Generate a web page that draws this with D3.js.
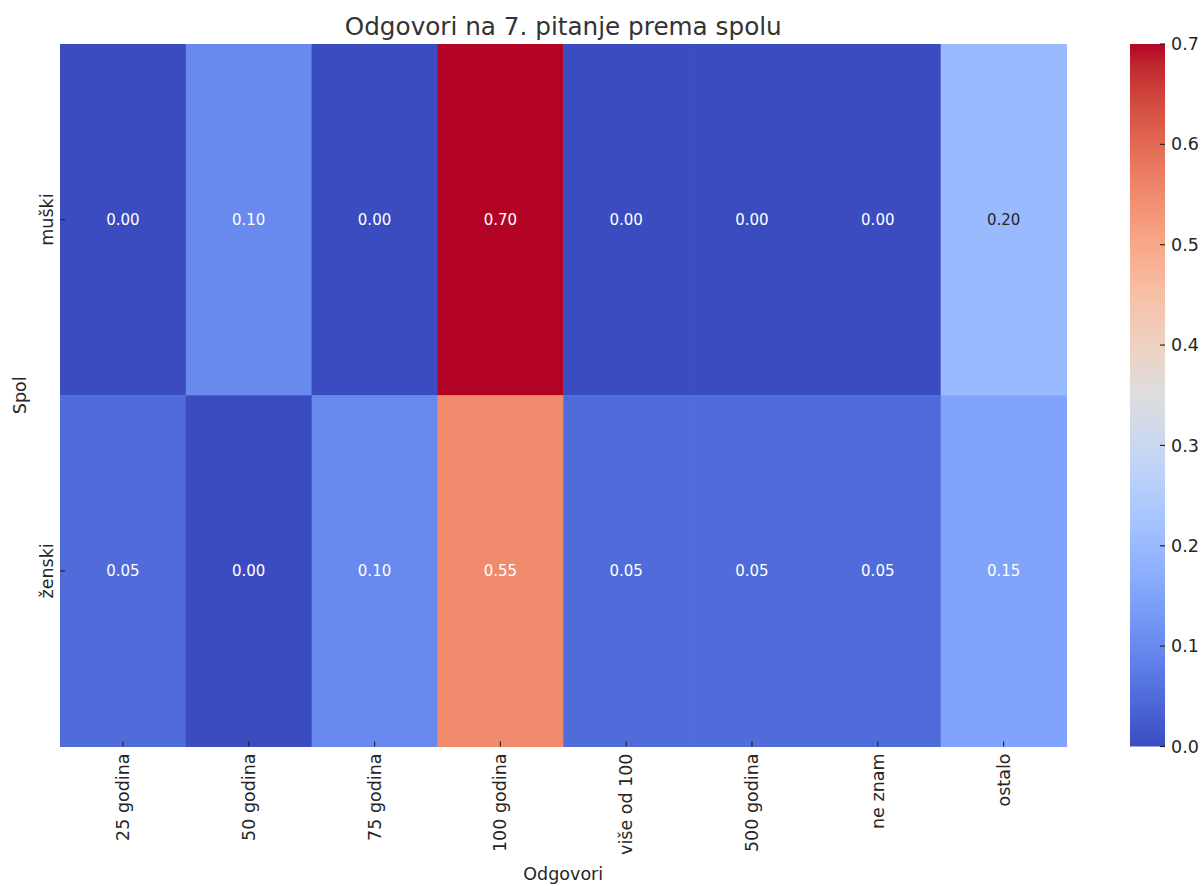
<!DOCTYPE html>
<html><head><meta charset="utf-8">
<script src="https://cdn.jsdelivr.net/npm/d3@7"></script>
<style>body{margin:0;background:#fff}svg{display:block}text{font-family:"DejaVu Sans",sans-serif;fill:#262626}</style>
</head><body>
<svg id="c" width="1204" height="886"></svg>
<script>
const categories = ["25 godina","50 godina","75 godina","100 godina","više od 100","500 godina","ne znam","ostalo"];
const rows = ["muški","ženski"];
const valuesMuski = [0.00,0.10,0.00,0.70,0.00,0.00,0.00,0.20];
const valuesZenski = [0.05,0.00,0.10,0.55,0.05,0.05,0.05,0.15];
const colorTicks = [0.0,0.1,0.2,0.3,0.4,0.5,0.6,0.7];
const title = "Odgovori na 7. pitanje prema spolu";
const xLabel = "Odgovori", yLabel = "Spol";

// matplotlib coolwarm anchor colours
const cw = [[0.2298057,0.298717966,0.753683153],[0.26623388,0.353094838,0.801466763],[0.30386891,0.406535296,0.84495867],[0.342804478,0.458757618,0.883725899],[0.38301334,0.50941904,0.917387822],[0.424369608,0.558148092,0.945619588],[0.46666708,0.604562568,0.968154911],[0.509635204,0.648280772,0.98478814],[0.552953156,0.688929332,0.995375608],[0.596262162,0.726149107,0.999836203],[0.639176211,0.759599947,0.998151185],[0.681291281,0.788964712,0.990363227],[0.722193294,0.813952739,0.976574709],[0.761464949,0.834302879,0.956945269],[0.798691636,0.849786142,0.931688648],[0.833466556,0.860207984,0.901068838],[0.865395197,0.86541021,0.865395561],[0.897787179,0.848937047,0.820880546],[0.924127593,0.827384882,0.774508472],[0.944468518,0.800927443,0.726736146],[0.958852946,0.769767752,0.678007945],[0.96732803,0.734132809,0.628751763],[0.969954137,0.694266682,0.579375448],[0.966811177,0.650421156,0.530263762],[0.958003065,0.602842431,0.481775914],[0.943660866,0.551750968,0.434243684],[0.923944917,0.49730856,0.387970225],[0.89904617,0.439559467,0.343229596],[0.869186849,0.378313092,0.300267182],[0.834620542,0.312874446,0.259301199],[0.795631745,0.24128379,0.220525627],[0.752534934,0.157246067,0.184115123],[0.705673158,0.01555616,0.150232812]];
const cwInterp = d3.piecewise(d3.interpolateRgb, cw.map(c => d3.rgb(c[0]*255,c[1]*255,c[2]*255)));
const vmin = 0, vmax = 0.7;
const color = d3.scaleSequential(cwInterp).domain([vmin, vmax]).clamp(true);

const data = [];
[valuesMuski, valuesZenski].forEach((arr, ri) => arr.forEach((v, ci) => data.push({row: rows[ri], col: categories[ci], v})));

const svg = d3.select("#c");
const L = 60, R = 1066.5, T = 44, B = 746.5;
const x = d3.scaleBand().domain(categories).range([L, R]);
const y = d3.scaleBand().domain(rows).range([T, B]);

svg.append("g").selectAll("rect").data(data).join("rect")
  .attr("x", d => x(d.col)).attr("y", d => y(d.row))
  .attr("width", x.bandwidth()+0.5).attr("height", y.bandwidth()+0.5)
  .attr("fill", d => color(d.v));

function lum(c){ const f = u => { u/=255; return u <= 0.03928 ? u/12.92 : Math.pow((u+0.055)/1.055, 2.4); }; const r = d3.rgb(c); return 0.2126*f(r.r)+0.7152*f(r.g)+0.0722*f(r.b); }

svg.append("g").selectAll("text").data(data).join("text")
  .attr("x", d => x(d.col) + x.bandwidth()/2).attr("y", d => y(d.row) + y.bandwidth()/2)
  .attr("text-anchor", "middle").attr("dy", "0.35em")
  .style("font-size", "15px")
  .style("fill", d => lum(color(d.v)) > 0.408 ? "#262626" : "#ffffff")
  .text(d => d.v.toFixed(2));

// x ticks
const gx = svg.append("g");
categories.forEach(c => {
  const cx = x(c) + x.bandwidth()/2;
  gx.append("line").attr("x1", cx).attr("x2", cx).attr("y1", B-5).attr("y2", B).attr("stroke", "#262626").attr("stroke-width", 1.2);
  gx.append("text").attr("transform", `translate(${cx},${B+7}) rotate(-90)`)
    .attr("text-anchor", "end").attr("dy", "0.35em").style("font-size", "17.5px").text(c);
});
// y ticks
const gy = svg.append("g");
rows.forEach(r => {
  const cy = y(r) + y.bandwidth()/2;
  gy.append("line").attr("x1", L).attr("x2", L+5).attr("y1", cy).attr("y2", cy).attr("stroke", "#262626").attr("stroke-width", 1.2);
  gy.append("text").attr("transform", `translate(${L-7},${cy}) rotate(-90)`)
    .attr("text-anchor", "middle").style("font-size", "17.5px").text(r);
});

svg.append("text").attr("x", (L+R)/2).attr("y", 35).attr("text-anchor", "middle").style("font-size", "24.7px").style("fill", "#333").text(title);
svg.append("text").attr("x", (L+R)/2).attr("y", 880).attr("text-anchor", "middle").style("font-size", "17.5px").text(xLabel);
svg.append("text").attr("transform", `translate(26,${(T+B)/2}) rotate(-90)`).attr("text-anchor", "middle").style("font-size", "17.5px").text(yLabel);

// colorbar
const cbX = 1130, cbW = 35;
const cy = d3.scaleLinear().domain([vmin, vmax]).range([B, T]);
const defs = svg.append("defs");
const grad = defs.append("linearGradient").attr("id", "cbg").attr("x1", 0).attr("y1", 1).attr("x2", 0).attr("y2", 0);
d3.range(0, 1.0001, 1/64).forEach(t => grad.append("stop").attr("offset", t).attr("stop-color", color(vmin + t*(vmax-vmin))));
svg.append("rect").attr("x", cbX).attr("y", T).attr("width", cbW).attr("height", B-T).attr("fill", "url(#cbg)");
const gc = svg.append("g");
colorTicks.forEach(t => {
  gc.append("line").attr("x1", cbX+cbW-5).attr("x2", cbX+cbW).attr("y1", cy(t)).attr("y2", cy(t)).attr("stroke", "#262626").attr("stroke-width", 1.2);
  gc.append("text").attr("x", cbX+cbW+6).attr("y", cy(t)).attr("dy", "0.35em").style("font-size", "17.5px").text(t.toFixed(1));
});
</script>
</body></html>
